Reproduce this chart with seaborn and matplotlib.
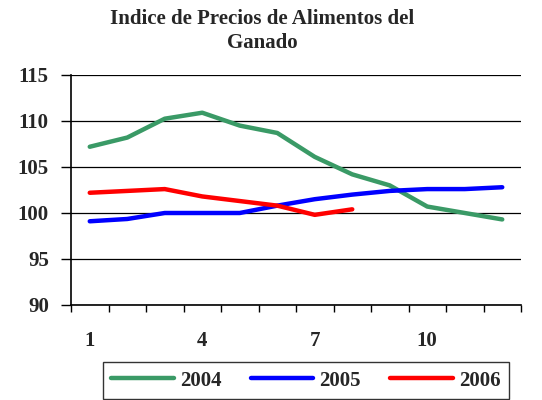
import pandas as pd
import numpy as np
import matplotlib.pyplot as plt
import seaborn as sns
from matplotlib.ticker import FixedLocator

# monthly index values
months = list(range(1, 13))
y2004 = [107.2, 108.2, 110.25, 110.9, 109.5, 108.7, 106.1, 104.2, 103.0, 100.7, 100.0, 99.3]
y2005 = [99.1, 99.35, 100.0, 100.0, 100.0, 100.8, 101.5, 102.0, 102.4, 102.6, 102.6, 102.8]
y2006 = [102.2, 102.4, 102.6, 101.8, 101.3, 100.8, 99.8, 100.4]
series_names = ['2004', '2005', '2006']
colors = ['#3A9A66', '#0000FF', '#FF0000']
title = 'Indice de Precios de Alimentos del\nGanado'

rows = []
for name, vals in zip(series_names, [y2004, y2005, y2006]):
    for m, v in zip(months, vals):
        rows.append({'pos': m - 1, 'valor': v, 'serie': name})
df = pd.DataFrame(rows)

sns.set_theme(style='white')
plt.rcParams['font.family'] = ['Liberation Serif', 'DejaVu Serif']

fig = plt.figure(figsize=(5.42, 4.0), dpi=100)
ax = fig.add_axes([71/542, 1 - 305/400, 450/542, 230/400])

sns.lineplot(data=df, x='pos', y='valor', hue='serie', palette=colors,
             linewidth=3.2, ax=ax, legend=True, solid_capstyle='round')

ax.set_xlim(-0.5, 11.5)
ax.set_ylim(90, 115)
ax.set_yticks([90, 95, 100, 105, 110, 115])
ax.set_yticklabels(['90', '95', '100', '105', '110', '115'], fontsize=15, fontweight='bold')
ax.yaxis.grid(True, color='black', linewidth=0.9)
ax.set_axisbelow(True)

ax.set_xticks([0, 3, 6, 9])
ax.set_xticklabels(['1', '4', '7', '10'], fontsize=15, fontweight='bold')
ax.xaxis.set_minor_locator(FixedLocator(np.arange(-0.5, 12, 1)))
ax.tick_params(axis='x', which='major', length=0, pad=19)
ax.tick_params(axis='x', which='minor', length=5, width=1, color='black', direction='out', bottom=True)
ax.tick_params(axis='y', length=7, width=1, color='black', direction='out', left=True, pad=9)

for s in ['top', 'right']:
    ax.spines[s].set_visible(False)
for s in ['left', 'bottom']:
    ax.spines[s].set_color('black')
    ax.spines[s].set_linewidth(1.2)
ax.set_xlabel('')
ax.set_ylabel('')

fig.text(262/542, 1 - 9/400, title, ha='center', va='top', fontsize=15,
         fontweight='bold', linespacing=1.3)

handles, labels = ax.get_legend_handles_labels()
ax.legend(handles, labels, loc='upper center',
          bbox_to_anchor=(306/542, 48/400), bbox_transform=fig.transFigure,
          ncol=3, frameon=True, fancybox=False, edgecolor='black',
          prop={'size': 15, 'weight': 'bold'}, handlelength=3.0,
          columnspacing=1.4, handletextpad=0.3, borderpad=0.4)
ax.get_legend().get_frame().set_linewidth(1.0)

plt.savefig('out.png', dpi=100)
